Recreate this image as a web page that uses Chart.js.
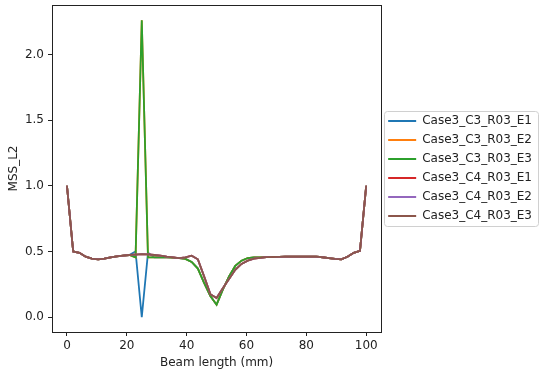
<!DOCTYPE html>
<html>
<head>
<meta charset="utf-8">
<script src="https://cdn.jsdelivr.net/npm/chart.js@4.4.1/dist/chart.umd.min.js"></script>
<style>
  html, body { margin: 0; padding: 0; background: #fff; }
  canvas { display: block; }
</style>
</head>
<body>
<canvas id="mssChart" width="550" height="375"></canvas>
<script>
// Beam positions (mm), 49 stations along the beam
const beamLength = [0, 2.08, 4.17, 6.25, 8.33, 10.42, 12.5, 14.58, 16.67, 18.75,
  20.83, 22.92, 25, 27.08, 29.17, 31.25, 33.33, 35.42, 37.5, 39.58,
  41.67, 43.75, 45.83, 47.92, 50, 52.08, 54.17, 56.25, 58.33, 60.42,
  62.5, 64.58, 66.67, 68.75, 70.83, 72.92, 75, 77.08, 79.17, 81.25,
  83.33, 85.42, 87.5, 89.58, 91.67, 93.75, 95.83, 97.92, 100];

// MSS_L2 per case
const c3E1 = [1.00, 0.50, 0.49, 0.46, 0.445, 0.44, 0.445, 0.455, 0.463, 0.468,
  0.473, 0.50, 0.00, 0.49, 0.455, 0.455, 0.455, 0.453, 0.45, 0.443,
  0.42, 0.37, 0.26, 0.16, 0.095, 0.21, 0.31, 0.39, 0.43, 0.45,
  0.455, 0.455, 0.457, 0.458, 0.459, 0.46, 0.46, 0.46, 0.46, 0.46,
  0.46, 0.456, 0.45, 0.443, 0.44, 0.46, 0.49, 0.505, 1.00];
const c3E2 = [1.00, 0.50, 0.49, 0.46, 0.445, 0.44, 0.445, 0.455, 0.463, 0.468,
  0.473, 0.455, 2.26, 0.455, 0.455, 0.455, 0.455, 0.453, 0.45, 0.443,
  0.42, 0.37, 0.26, 0.16, 0.095, 0.21, 0.31, 0.39, 0.43, 0.45,
  0.455, 0.455, 0.457, 0.458, 0.459, 0.46, 0.46, 0.46, 0.46, 0.46,
  0.46, 0.456, 0.45, 0.443, 0.44, 0.46, 0.49, 0.505, 1.00];
const c3E3 = [1.00, 0.50, 0.49, 0.46, 0.445, 0.44, 0.445, 0.455, 0.463, 0.468,
  0.473, 0.455, 2.26, 0.455, 0.455, 0.455, 0.455, 0.453, 0.45, 0.443,
  0.42, 0.37, 0.26, 0.16, 0.095, 0.21, 0.31, 0.39, 0.43, 0.45,
  0.455, 0.455, 0.457, 0.458, 0.459, 0.46, 0.46, 0.46, 0.46, 0.46,
  0.46, 0.456, 0.45, 0.443, 0.44, 0.46, 0.49, 0.505, 1.00];
const c4E1 = [1.00, 0.50, 0.49, 0.46, 0.445, 0.44, 0.445, 0.455, 0.463, 0.468,
  0.473, 0.476, 0.48, 0.478, 0.473, 0.468, 0.46, 0.455, 0.45, 0.455,
  0.468, 0.44, 0.31, 0.175, 0.145, 0.22, 0.29, 0.36, 0.405, 0.43,
  0.445, 0.452, 0.457, 0.458, 0.459, 0.46, 0.46, 0.46, 0.46, 0.46,
  0.46, 0.456, 0.45, 0.443, 0.44, 0.46, 0.49, 0.505, 1.00];
const c4E2 = [1.00, 0.50, 0.49, 0.46, 0.445, 0.44, 0.445, 0.455, 0.463, 0.468,
  0.473, 0.476, 0.48, 0.478, 0.473, 0.468, 0.46, 0.455, 0.45, 0.455,
  0.468, 0.44, 0.31, 0.175, 0.145, 0.22, 0.29, 0.36, 0.405, 0.43,
  0.445, 0.452, 0.457, 0.458, 0.459, 0.46, 0.46, 0.46, 0.46, 0.46,
  0.46, 0.456, 0.45, 0.443, 0.44, 0.46, 0.49, 0.505, 1.00];
const c4E3 = [1.00, 0.50, 0.49, 0.46, 0.445, 0.44, 0.445, 0.455, 0.463, 0.468,
  0.473, 0.476, 0.48, 0.478, 0.473, 0.468, 0.46, 0.455, 0.45, 0.455,
  0.468, 0.44, 0.31, 0.175, 0.145, 0.22, 0.29, 0.36, 0.405, 0.43,
  0.445, 0.452, 0.457, 0.458, 0.459, 0.46, 0.46, 0.46, 0.46, 0.46,
  0.46, 0.456, 0.45, 0.443, 0.44, 0.46, 0.49, 0.505, 1.00];

const seriesNames = ['Case3_C3_R03_E1', 'Case3_C3_R03_E2', 'Case3_C3_R03_E3',
  'Case3_C4_R03_E1', 'Case3_C4_R03_E2', 'Case3_C4_R03_E3'];
const seriesValues = [c3E1, c3E2, c3E3, c4E1, c4E2, c4E3];
const seriesColors = ['#1f77b4', '#ff7f0e', '#2ca02c', '#d62728', '#9467bd', '#8c564b'];

const xTicks = [0, 20, 40, 60, 80, 100];
const yTicks = [0, 0.5, 1.0, 1.5, 2.0];

const axisColor = '#222';
const fontFamily = "'DejaVu Sans', sans-serif";

// Draws the box round the plot and the frame round the legend
const framePlugin = {
    id: 'frames',
    afterDraw(chart) {
        const ctx = chart.ctx;
        const a = chart.chartArea;
        ctx.save();
        ctx.strokeStyle = axisColor;
        ctx.lineWidth = 1;
        ctx.strokeRect(Math.round(a.left) + 0.5, Math.round(a.top) + 0.5,
            Math.round(a.right - a.left), Math.round(a.bottom - a.top));

        const boxes = chart.legend.legendHitBoxes;
        if (boxes && boxes.length) {
            const left = Math.min(...boxes.map(b => b.left)) - 4;
            const right = Math.max(...boxes.map(b => b.left + b.width)) + 6;
            const top = boxes[0].top - 4;
            const bottom = boxes[boxes.length - 1].top + boxes[boxes.length - 1].height + 4;
            ctx.strokeStyle = '#d0d0d0';
            ctx.beginPath();
            ctx.roundRect(Math.round(left) + 0.5, Math.round(top) + 0.5,
                Math.round(right - left), Math.round(bottom - top), 3);
            ctx.stroke();
        }
        ctx.restore();
    }
};

// later series are drawn on top, like matplotlib
const datasets = seriesNames.map((name, i) => ({
    label: name,
    data: beamLength.map((x, j) => ({ x: x, y: seriesValues[i][j] })),
    borderColor: seriesColors[i],
    backgroundColor: seriesColors[i],
    borderWidth: 1.8,
    pointRadius: 0,
    tension: 0,
    fill: false,
    order: seriesNames.length - i
}));

new Chart(document.getElementById('mssChart'), {
    type: 'line',
    data: { datasets: datasets },
    options: {
        responsive: false,
        animation: false,
        layout: { padding: { top: 5, right: 8, bottom: 0, left: 0 } },
        plugins: {
            tooltip: { enabled: false },
            legend: {
                position: 'right',
                fullSize: false,
                maxWidth: 200,
                labels: {
                    usePointStyle: true,
                    pointStyle: 'line',
                    pointStyleWidth: 28,
                    padding: 7,
                    color: axisColor,
                    font: { family: fontFamily, size: 12 },
                    sort: (a, b) => a.datasetIndex - b.datasetIndex
                }
            }
        },
        scales: {
            x: {
                type: 'linear',
                min: -5,
                max: 105,
                afterBuildTicks: s => { s.ticks = xTicks.map(v => ({ value: v })); },
                afterFit: s => { s.height = 43; s.paddingLeft = 0; s.paddingRight = 0; },
                ticks: {
                    color: axisColor,
                    padding: 3,
                    font: { family: fontFamily, size: 12 }
                },
                grid: { drawOnChartArea: false, tickLength: 4, color: axisColor },
                border: { color: axisColor },
                title: {
                    display: true,
                    text: 'Beam length (mm)',
                    color: axisColor,
                    padding: { top: 5, bottom: 5 },
                    font: { family: fontFamily, size: 12 }
                }
            },
            y: {
                type: 'linear',
                min: -0.113,
                max: 2.376,
                afterBuildTicks: s => { s.ticks = yTicks.map(v => ({ value: v })); },
                afterFit: s => { s.width = 52; s.paddingTop = 0; s.paddingBottom = 0; },
                ticks: {
                    color: axisColor,
                    padding: 4,
                    font: { family: fontFamily, size: 12 },
                    callback: v => v.toFixed(1)
                },
                grid: { drawOnChartArea: false, tickLength: 4, color: axisColor },
                border: { color: axisColor },
                title: {
                    display: true,
                    text: 'MSS_L2',
                    color: axisColor,
                    padding: { top: 7, bottom: 7 },
                    font: { family: fontFamily, size: 12 }
                }
            }
        }
    },
    plugins: [framePlugin]
});
</script>
</body>
</html>
